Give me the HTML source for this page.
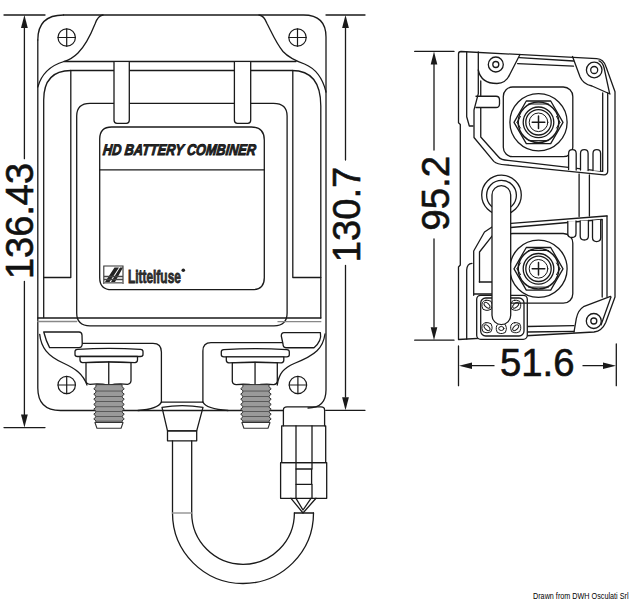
<!DOCTYPE html>
<html><head><meta charset="utf-8">
<style>
html,body{margin:0;padding:0;background:#fff;}
body{width:630px;height:600px;overflow:hidden;}
svg{display:block;}
text{font-family:"Liberation Sans",sans-serif;}
</style></head>
<body>
<svg width="630" height="600" viewBox="0 0 630 600">
<rect width="630" height="600" fill="#fff"/>
<g fill="none" stroke="#1a1a1a" stroke-width="1.3" stroke-linecap="round" stroke-linejoin="round">

<!-- ===== FRONT VIEW ===== -->
<!-- outer body -->
<path d="M63.5,15 H303.5 Q326,15 326,37 V390 Q326,408 308,408"/>
<path d="M37.8,40 Q37.8,15 63.5,15"/>
<path d="M37.8,40 V388 Q37.8,410.5 60.5,410.5 H283.4"/>
<path d="M138,410.5 Q158,409 161.4,402.1 M202.9,402.1 Q206,409 228,410.5"/>
<!-- top brackets -->
<path d="M103,15 Q98,15.5 95,24 C91,34 86,45 78,53 C73,58 69,60 64,61.5 C52,65 42,72 37.8,87"/>
<path d="M64,61.5 H296"/>
<path d="M259,15 Q264,15.5 267,23.5 C271,31 276,43 283,51.5 C289,58 296,61 304.5,64 C313,67.5 322,75 326,92"/>
<!-- second frame -->
<path d="M43.7,317.5 V100 Q43.7,70.5 71,70.5 H292 Q320.8,70.5 320.8,106 V318"/>
<path d="M37.8,318 H320.8"/>
<path d="M37.8,321.5 H76.7" stroke="#888"/>
<path d="M70.8,70.5 V277.5 H43.7"/>
<path d="M292.8,70.5 V277.5 H320.8"/>
<!-- third rounded rect -->
<path d="M76.7,116 Q76.7,103.3 90,103.3 H273.5 Q287.1,103.3 287.1,116 V313 Q287.1,325.8 274,325.8 H90 Q76.7,325.8 76.7,313 V116"/>
<!-- latch tabs -->
<path d="M114,62.3 V120.3 Q114,123.3 117,123.3 H126.3 Q129.3,123.3 129.3,120.3 V62.3" fill="#fff"/>
<path d="M234.4,62.3 V120.3 Q234.4,123.3 237.4,123.3 H247.7 Q250.7,123.3 250.7,120.3 V62.3" fill="#fff"/>
<!-- label -->
<path d="M99.7,139 Q99.7,127 111.7,127 H251.3 Q264.3,127 264.3,140 V277.7 Q264.3,289.7 252.3,289.7 H111.7 Q99.7,289.7 99.7,277.7 Z" fill="#fff"/>
<path d="M99.7,169.8 H264.3"/>

<!-- screws -->
<g stroke-width="1.2">
<circle cx="66.7" cy="37.5" r="8.7"/><path d="M58,37.5 H75.4 M66.7,28.8 V46.2"/>
<circle cx="297.5" cy="37.5" r="8.7"/><path d="M288.8,37.5 H306.2 M297.5,28.8 V46.2"/>
<circle cx="66.7" cy="385" r="8.7"/><path d="M58,385 H75.4 M66.7,376.3 V393.7"/>
<circle cx="297.9" cy="385" r="8.7"/><path d="M289.2,385 H306.6 M297.9,376.3 V393.7"/>
</g>

<!-- housings -->
<path d="M82,343.4 H153 Q161.4,343.4 161.4,352 V402.1"/>
<path d="M283,342.7 H211 Q202.9,342.7 202.9,351 V402.1"/>
<!-- bottom tabs -->
<path d="M43.75,332 H79 Q81.7,332 82,335 L82.25,344 Q82,347.6 79,347.6 H49.6 Q46,341 43.75,332 Z" fill="#fff"/>
<path d="M284,332.6 H320.4 Q322,341 314,347.75 H286 Q283,347.6 283,344 L281.3,336 Q281.3,332.6 284,332.6 Z" fill="#fff"/>
<path d="M278,321.7 H320.8" stroke="#888"/>
<!-- S curves to nuts -->
<path d="M39.7,334.3 C41,347 47,356 64.2,363.5 C76,369 83,374 87,385"/>
<path d="M325,334 C323,348 316,355 294.2,363.5 C284,368 279,373 277.25,385"/>

<!-- bolts -->
<g id="bolt" fill="#fff">
<path d="M75,351.5 Q75,349.6 77.5,349.4 Q109,347.3 140.5,349.4 Q143,349.6 143,351.5 V354.5 Q143,356.5 140.5,356.5 H77.5 Q75,356.5 75,354.5 Z"/>
<path d="M80,356.5 H137.5 V360 Q137.5,362.3 135,362.6 Q108.75,361 82.5,362.6 Q80,362.3 80,360 Z"/>
<path d="M86,362.6 Q108.75,361.5 131,362.6 V381 Q130.5,384.2 127.5,384.4 Q118,383.2 108.75,385.3 Q99.5,383.2 90,384.4 Q86.5,384.2 86,381 Z"/>
<path d="M108.75,362 V385"/>
</g>
<use href="#bolt" transform="translate(146.3,0.3)"/>
<g transform="translate(93.75,385)"><g id="stud">
<path d="M2.20,0.00 L2.20,1.75 L0.00,3.75 L2.20,5.75 L2.20,7.20 L0.00,9.20 L2.20,11.20 L2.20,12.20 L0.00,14.20 L2.20,16.20 L2.20,17.40 L0.00,19.40 L2.20,21.40 L2.20,22.20 L0.00,24.20 L2.20,26.20 L2.20,27.20 L0.00,29.20 L2.20,31.20 L2.20,31.90 L0.00,33.90 L2.20,35.90 L2.20,37.50 L28.30,37.50 L28.30,35.90 L30.50,33.90 L28.30,31.90 L28.30,31.20 L30.50,29.20 L28.30,27.20 L28.30,26.20 L30.50,24.20 L28.30,22.20 L28.30,21.40 L30.50,19.40 L28.30,17.40 L28.30,16.20 L30.50,14.20 L28.30,12.20 L28.30,11.20 L30.50,9.20 L28.30,7.20 L28.30,5.75 L30.50,3.75 L28.30,1.75 L28.30,0.00 Z" fill="#9a9a9a" stroke="#333" stroke-width="1"/>
<path d="M2.2,6.05 H28.30 M2.2,11.50 H28.30 M2.2,16.50 H28.30 M2.2,21.70 H28.30 M2.2,26.50 H28.30 M2.2,31.50 H28.30 M2.2,36.20 H28.30" stroke="#5a5a5a" stroke-width="1"/>
<path d="M1.2,37.5 H29.3 L27.3,43.3 H3.2 Z" fill="#fff" stroke="#333" stroke-width="1.1"/>
</g></g>
<use href="#stud" transform="translate(240.7,385)"/>

<!-- gland -->
<path d="M161.4,402.1 H202.9"/>
<path d="M162,407.4 Q182,403.8 203,407.4 L196.7,430.8 H167.5 Z"/>
<rect x="167.5" y="430.8" width="29.2" height="10"/>
<path d="M172.5,440.8 V513 A70.5,70.5 0 0 0 313.5,513 M191.7,440.8 V513 A51.35,51.35 0 0 0 294.4,513"/>
<path d="M172.5,513 H191.7" stroke="#999"/>
<path d="M294.4,513 L313.5,513"/>
<!-- connector -->
<path d="M283.4,425.8 V410 Q283.4,406.9 287,406.9 H321 Q324.6,406.9 324.6,410 V425.8"/>
<rect x="281.7" y="425.8" width="44" height="36.8"/>
<rect x="280.6" y="462.6" width="46.1" height="35.7"/>
<path d="M296,425.8 V469 M312,425.8 V469 M296,484.3 V498.3 M312,484.3 V498.3"/>
<rect x="296" y="469" width="15.6" height="15.3"/>
<path d="M291,498.3 L303,513 L316,498.3 M296,498.3 L303,510 L311,498.3"/>

<!-- dimension 136.43 -->
<path d="M4,15 H45 M4,427.6 H45 M24.4,27 V158.7 M24.4,281.3 V415"/>
<!-- dimension 130.7 -->
<path d="M326,15 H365 M325.7,410.3 H365 M345.5,27 V160 M345.5,265.3 V397"/>

<!-- ===== SIDE VIEW ===== -->
<!-- outer outline -->
<path d="M458.5,339.5 V267 L460.3,265 V124.5 L458.5,122.7 V54 Q458.5,51.5 461,51.5 L596.7,58.6 Q603.5,59 606,66.7 L615,91.7 V297 L605.7,322.5 Q602,331 594,332 L458.5,339.5"/>
<!-- line 2 -->
<path d="M466.7,52 V116.7 L469.3,126 H473"/>
<path d="M466.7,339 V270 Q467,263.5 472,263.3"/>
<!-- line 3 / bracket -->
<path d="M478.3,52 V93.7 L474,110 V137.5 L493.8,161.4 Q497,164.5 505.7,164.8 L604,174.8 Q607.7,174.8 607.7,171 V93"/>
<path d="M480.75,81 V96 M480.75,108 V137 L498.6,157 Q501,160 508,160.3 L602.7,171.3 V93"/>
<path d="M478.3,70 Q481,83.5 497,83.5 Q506,83.5 510,74 L520,54.5"/>
<path d="M519.5,57.6 L573.5,61 M517.6,63.6 L573.5,66.2"/>
<path d="M572.5,56.5 L580,76.7 Q583,84 592,86 L610,94"/>
<path d="M476,96.25 H496 Q499.5,96.25 499.5,100 V104 Q499.5,107.5 496,107.5 H476"/>
<circle cx="495.8" cy="64.5" r="7.5"/><circle cx="495.8" cy="64.5" r="3"/>
<circle cx="594.2" cy="70" r="7.8"/><circle cx="594.2" cy="70" r="3.5"/>
<!-- inner right diagonal -->
<path d="M599,60.8 Q602.5,62 604,67.5 L609.6,93.3"/>
<path d="M602.2,220 V297 M607,216 V296.5"/>
<path d="M579.1,174 V216.5 M589.4,175 V216"/>
<!-- slant 2 -->
<path d="M607,216 H606 L504,224 Q497,224.5 492,227 L484.5,232 L473.7,251 V295.3"/>
<path d="M602.2,219.5 L505,228 Q498,229 492,236.2 L479.5,252 V282"/>
<path d="M479.3,282 H492 M474,294 H492"/>
<!-- bottom corner bracket -->
<path d="M610.5,296.3 L583.5,306.7 Q578,310 576.3,318.6 L574,332"/>
<path d="M611,297 L601,325"/>
<path d="M527,326.5 L574,325.7 M527,332 L574,331.3"/>
<circle cx="593.8" cy="321" r="7.5"/><circle cx="593.8" cy="321" r="3"/>
<!-- cable gland ring -->
<circle cx="501.5" cy="195" r="19.8"/>
<circle cx="501.5" cy="195.3" r="14.9"/>
<!-- connector housing -->
<rect x="476.7" y="295.3" width="50.6" height="44" rx="4" fill="#fff"/>
<rect x="480.7" y="298" width="43.3" height="38" rx="5"/>
<g stroke-width="1">
<rect x="482" y="300.3" width="10" height="10" rx="4"/><ellipse cx="487" cy="305.3" rx="3.6" ry="2" transform="rotate(45 487 305.3)"/>
<rect x="510.70000000000005" y="300.3" width="10" height="10" rx="4"/><ellipse cx="515.7" cy="305.3" rx="3.6" ry="2" transform="rotate(-45 515.7 305.3)"/>
<rect x="482" y="322.7" width="10" height="10" rx="4"/><ellipse cx="487" cy="327.7" rx="3.6" ry="2" transform="rotate(45 487 327.7)"/>
<rect x="510.70000000000005" y="322.7" width="10" height="10" rx="4"/><ellipse cx="515.7" cy="327.7" rx="3.6" ry="2" transform="rotate(-45 515.7 327.7)"/>
<rect x="496.3" y="323.5" width="10" height="10" rx="4"/><ellipse cx="501.3" cy="328.5" rx="2.6" ry="2"/>
</g>
<!-- terminals -->
<g id="term">
<rect x="503.3" y="87" width="69.5" height="69.7" rx="9.5"/>
<circle cx="538.5" cy="122.3" r="28.6"/>
<path d="M514,122.3 L526.3,101 H550.7 L563,122.3 L550.7,143.6 H526.3 Z"/>
<path d="M528.5,104 H548.5 M528.5,140.6 H548.5 M517,122.3 L520.5,116.5 M517,122.3 L520.5,128.1 M560,122.3 L556.5,116.5 M560,122.3 L556.5,128.1" stroke-width="1"/>
<circle cx="538.5" cy="122.3" r="20.3" stroke-width="1.5"/>
<circle cx="538.5" cy="122.3" r="15.3"/>
<circle cx="538.5" cy="122.3" r="12.7"/>
<circle cx="538.5" cy="122.3" r="9.3" stroke-width="1"/>
<path d="M532.2,122.3 H544.8 M538.5,116 V128.6" stroke-width="1.5"/>
</g>
<use href="#term" transform="translate(0,146.5)"/>
<path d="M492,315.3 V195 A9.35,9.35 0 0 1 510.7,195 V315.3 A9.35,9.35 0 0 1 492,315.3 Z" fill="#fff"/>
<!-- fingers -->
<path d="M568.6,169.5 V153.5 Q568.6,149.7 572.4,149.7 Q576.2,149.7 576.2,153.5 V170" fill="#fff"/>
<path d="M580.5,170 V153.5 Q580.5,149.7 584.3,149.7 Q588.1,149.7 588.1,153.5 V170.5" fill="#fff"/>
<path d="M593,170.5 V153.5 Q593,149.7 596.8,149.7 Q600.6,149.7 600.6,153.5 V171" fill="#fff"/>
<path d="M567.8,221.5 V233.5 Q567.8,237.5 571.9,237.5 Q576,237.5 576,233.5 V221" fill="#fff"/>
<path d="M580.2,221 V236 Q580.2,240 584.3,240 Q588.4,240 588.4,236 V220.5" fill="#fff"/>
<path d="M592.5,220.5 V237.6 Q592.5,241.6 596.6,241.6 Q600.7,241.6 600.7,237.6 V219.8" fill="#fff"/>
<!-- dimension 95.2 -->
<path d="M414.7,51.4 H454 M414.7,340.2 H454 M434,64 V150 M434,239 V327"/>
<!-- dimension 51.6 -->
<path d="M458.5,346 V385.7 M616.3,344 V385.7 M470,365.7 H494 M583,365.7 H605"/>
</g>
<g fill="#1a1a1a">
<path d="M434,51.4 L430.7,64.4 H437.3 Z"/>
<path d="M434,340.2 L430.7,327.2 H437.3 Z"/>
<path d="M459,365.7 L472,362.4 V369 Z"/>
<path d="M616,365.7 L603,362.4 V369 Z"/>
<path d="M24.4,15 L21,28 H27.8 Z"/>
<path d="M24.4,427.6 L21,414.6 H27.8 Z"/>
<path d="M345.5,15 L342.1,28 H348.9 Z"/>
<path d="M345.5,410.3 L342.1,397.3 H348.9 Z"/>
</g>
<text transform="translate(32.8,221) rotate(-90)" text-anchor="middle" font-size="38" textLength="116" lengthAdjust="spacingAndGlyphs" fill="#111" stroke="#111" stroke-width="0.6">136.43</text>
<text transform="translate(359.8,214.5) rotate(-90)" text-anchor="middle" font-size="38" textLength="95.5" lengthAdjust="spacingAndGlyphs" fill="#111" stroke="#111" stroke-width="0.6">130.7</text>

<text x="103" y="154.8" font-size="15.5" font-weight="bold" font-style="italic" fill="#2a2a2a" stroke="#111" stroke-width="0.9" textLength="153" lengthAdjust="spacingAndGlyphs" transform="translate(0,150) skewX(-6) translate(0,-150)">HD BATTERY COMBINER</text>
<!-- Littelfuse logo -->
<g>
<path d="M103.8,284 V266 H123 V284" fill="none" stroke="#333" stroke-width="1.1"/>
<path d="M105,282 L114.5,267.5 H119 L109.5,282 Z M111,282 L120,267.5 H123 L115,282 Z" fill="#222"/>
<path d="M104,276.5 H123 M104,279.5 H123" stroke="#444" stroke-width="1.4"/>
<path d="M104,282.8 H123" stroke="#777" stroke-width="1.6"/>
<text x="127.9" y="283" font-size="18.5" font-weight="bold" fill="#333" stroke="#222" stroke-width="0.8" textLength="53" lengthAdjust="spacingAndGlyphs">Littelfuse</text>
<circle cx="183.3" cy="270.3" r="1.8" fill="#222"/>
</g>

<text transform="translate(448.8,193.3) rotate(-90)" text-anchor="middle" font-size="38" textLength="75" lengthAdjust="spacingAndGlyphs" fill="#111" stroke="#111" stroke-width="0.6">95.2</text>
<text x="537.2" y="376" text-anchor="middle" font-size="38" textLength="74.5" lengthAdjust="spacingAndGlyphs" fill="#111" stroke="#111" stroke-width="0.6">51.6</text>
<text x="628.5" y="599" text-anchor="end" font-size="8.2" fill="#000" textLength="95.5" lengthAdjust="spacingAndGlyphs">Drawn from DWH Osculati Srl</text>
</svg>
</body></html>
